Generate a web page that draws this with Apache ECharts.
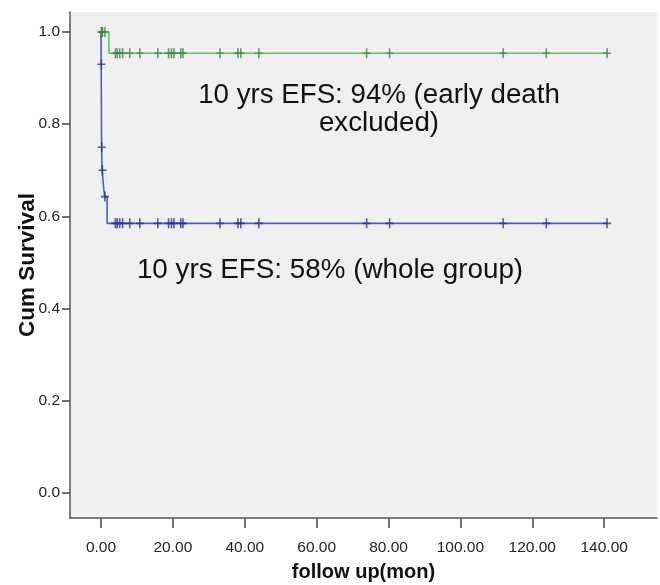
<!DOCTYPE html>
<html>
<head>
<meta charset="utf-8">
<script src="https://cdn.jsdelivr.net/npm/echarts@6/dist/echarts.min.js"></script>
<style>html,body{margin:0;padding:0;background:#fff;}#c{width:660px;height:585px;}</style>
</head>
<body>
<div id="c"></div>
<script>
// Kaplan-Meier step data (time in months, cumulative survival)
var wholeTimes = [0, 0.05, 0.15, 0.3, 0.6, 1.0, 1.7, 141];
var wholeSurv  = [1.0, 0.93, 0.75, 0.70, 0.672, 0.643, 0.585, 0.585];
var exclTimes  = [0, 2.2, 141];
var exclSurv   = [1.0, 0.954, 0.954];
// censored observations (times)
var censorEarly = [0.1, 0.2, 0.4, 1.1];
var censorLate  = [4.0, 4.5, 5.2, 6.0, 8.0, 10.8, 15.8, 18.8, 19.6, 20.3, 22.2, 22.8, 33.1, 38.1, 38.9, 43.9, 73.9, 80.3, 111.9, 123.9, 140.8];
var xTicks = [0, 20, 40, 60, 80, 100, 120, 140];
var yTicks = [0, 0.2, 0.4, 0.6, 0.8, 1.0];

function survAt(times, surv, t) {
  var s = surv[0];
  for (var i = 0; i < times.length; i++) { if (times[i] <= t) s = surv[i]; }
  return s;
}
function zip(a, b) { return a.map(function (v, i) { return [v, b[i]]; }); }
var allCensor = censorEarly.concat(censorLate);
var wholeMarks = allCensor.map(function (t) { return [t, survAt(wholeTimes, wholeSurv, t)]; });
var exclMarks  = allCensor.map(function (t) { return [t, survAt(exclTimes, exclSurv, t)]; });

var plus = 'path://M0,4.2H8V5.8H0ZM3.2,0H4.8V10H3.2Z';
var chart = echarts.init(document.getElementById('c'), null, {renderer: 'canvas'});
chart.setOption({
  animation: false,
  backgroundColor: '#ffffff',
  grid: {left: 70, top: 12, right: 3, bottom: 67, show: true, backgroundColor: '#f0f0f0', borderWidth: 0,
    outerBoundsMode: 'none', containLabel: false},
  xAxis: {
    type: 'value', min: -8.63, max: 154.7,
    name: 'follow up(mon)', nameLocation: 'middle', nameGap: 44, nameMoveOverlap: false,
    nameTextStyle: {fontFamily: 'Liberation Sans', fontWeight: 'bold', fontSize: 20, color: '#111'},
    axisLine: {show: true, onZero: false, lineStyle: {color: '#555', width: 1.5}},
    axisTick: {show: true, length: 10, customValues: xTicks, lineStyle: {color: '#444', width: 1.5}},
    axisLabel: {customValues: xTicks, margin: 22, fontFamily: 'Liberation Sans', fontSize: 15.5, color: '#222',
      formatter: function (v) { return v.toFixed(2); }},
    splitLine: {show: false}
  },
  yAxis: {
    type: 'value', min: -0.0542, max: 1.0434,
    name: 'Cum Survival', nameLocation: 'middle', nameGap: 31, nameRotate: 90, nameMoveOverlap: false,
    nameTextStyle: {fontFamily: 'Liberation Sans', fontWeight: 'bold', fontSize: 22.5, color: '#111'},
    axisLine: {show: true, onZero: false, lineStyle: {color: '#555', width: 1.5}},
    axisTick: {show: true, length: 8, customValues: yTicks, lineStyle: {color: '#444', width: 1.5}},
    axisLabel: {customValues: yTicks, margin: 10, fontFamily: 'Liberation Sans', fontSize: 15.5, color: '#222',
      formatter: function (v) { return v.toFixed(1); }},
    splitLine: {show: false}
  },
  series: [
    {type: 'line', name: 'whole group', step: 'end', data: zip(wholeTimes, wholeSurv), symbol: 'none',
      lineStyle: {color: '#5058d0', width: 1.6}, z: 2},
    {type: 'line', name: 'early death excluded', step: 'end', data: zip(exclTimes, exclSurv), symbol: 'none',
      lineStyle: {color: '#5acb5a', width: 1.6}, z: 3},
    {type: 'scatter', data: wholeMarks, symbol: plus, symbolSize: [8, 10],
      itemStyle: {color: '#2c3290'}, z: 4},
    {type: 'scatter', data: exclMarks, symbol: plus, symbolSize: [8, 10],
      itemStyle: {color: '#3f7f45'}, z: 5}
  ],
  graphic: [
    {type: 'text', x: 379, y: 109, style: {text: '10 yrs EFS: 94% (early death\nexcluded)', align: 'center', verticalAlign: 'middle',
      lineHeight: 28, fontFamily: 'Liberation Sans', fontSize: 27.7, fill: '#111'}},
    {type: 'text', x: 330, y: 270, style: {text: '10 yrs EFS: 58% (whole group)', align: 'center', verticalAlign: 'middle',
      fontFamily: 'Liberation Sans', fontSize: 27.8, fill: '#111'}}
  ]
});
</script>
</body>
</html>
